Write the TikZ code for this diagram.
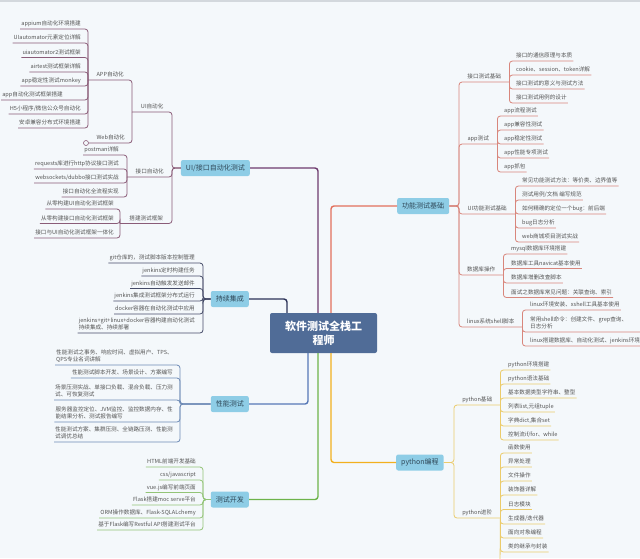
\documentclass[tikz,border=0pt]{standalone}
\usepackage{fontspec}
\setmainfont{Noto Sans CJK SC}
\usepackage{xcolor}
\definecolor{paper}{HTML}{F4F8FB}
\definecolor{rimgray}{HTML}{D3D8DD}
\definecolor{rootblue}{HTML}{506C97}
\definecolor{topicblue}{HTML}{8ECDE6}
\definecolor{topictext}{HTML}{2F4858}
\definecolor{leaftext}{HTML}{555555}
\definecolor{uimainc}{HTML}{6E3B6E}
\definecolor{uileafc}{HTML}{8A5C78}
\definecolor{gnmainc}{HTML}{E3705C}
\definecolor{gnleafc}{HTML}{D8867C}
\definecolor{cimainc}{HTML}{2C3358}
\definecolor{cileafc}{HTML}{454B68}
\definecolor{pfmainc}{HTML}{5678B6}
\definecolor{pfleafc}{HTML}{6E8BB6}
\definecolor{devmainc}{HTML}{6DB34A}
\definecolor{devleafc}{HTML}{93C477}
\definecolor{pymainc}{HTML}{F2B01E}
\definecolor{pyleafc}{HTML}{EBCB6B}
\tikzset{
rootbox/.style={rectangle,rounded corners=2pt,fill=rootblue,text=white,
  font=\fontsize{11}{14}\selectfont\bfseries,minimum width=107pt,minimum height=40pt,align=center,inner sep=2pt},
topicbox/.style={rectangle,rounded corners=2pt,fill=topicblue,text=topictext,
  font=\fontsize{7}{8}\selectfont,minimum height=16pt,inner xsep=5pt,inner ysep=2pt},
subtopic/.style={font=\fontsize{5.6}{7}\selectfont,text=leaftext,inner xsep=0pt,inner ysep=1.5pt,
  text depth=1.5pt,anchor=south west,align=center},
leafL/.style={font=\fontsize{5.6}{7}\selectfont,text=leaftext,inner xsep=1pt,inner ysep=1.5pt,
  text depth=1.5pt,anchor=south east,align=left},
leafR/.style={font=\fontsize{5.6}{7}\selectfont,text=leaftext,inner xsep=1pt,inner ysep=1.5pt,
  text depth=1.5pt,anchor=south west,align=left},
foldmark/.style={circle,draw=uileafc,fill=paper,line width=0.6pt,minimum size=5pt,inner sep=0pt},
uiline/.style={draw=uileafc,line width=0.8pt,rounded corners=3pt},
gnline/.style={draw=gnleafc,line width=0.8pt,rounded corners=3pt},
ciline/.style={draw=cileafc,line width=0.8pt,rounded corners=3pt},
pfline/.style={draw=pfleafc,line width=0.8pt,rounded corners=3pt},
devline/.style={draw=devleafc,line width=0.8pt,rounded corners=3pt},
pyline/.style={draw=pyleafc,line width=0.8pt,rounded corners=3pt},
mainline/.style={line width=1.4pt,rounded corners=3pt}
}
\begin{document}
\begin{tikzpicture}[x=1pt,y=-1pt]
\useasboundingbox (0,0) rectangle (640,558);
\clip (0,0) rectangle (640,558);
\fill[paper] (0,0) rectangle (640,558);
\draw[rimgray,line width=1.5pt] (0,0.75) -- (640,0.75);

\node[rootbox] (root) at (323.5,333) {软件测试全栈工\\程师};

\node[topicbox,anchor=east] (ui) at (250,168) {UI/接口自动化测试};
\coordinate (uibus) at (172,168);
\node[subtopic,minimum width=40pt] (uiauto) at (132,112) {UI自动化};
\node[subtopic,minimum width=45pt] (uiifa) at (127,177) {接口自动化};
\node[subtopic,minimum width=52pt] (uifw) at (120,223.5) {搭建测试框架};
\node[subtopic,minimum width=44pt] (uiapp) at (88,80) {APP自动化};
\node[subtopic,minimum width=43pt] (uiweb) at (89,143) {Web自动化};
\node[foldmark] (webfold) at (86,143) {};
\node[leafL] (app1) at (82,29) {appium自动化环境搭建};
\node[leafL] (app2) at (82,43) {UIautomator元素定位详解};
\node[leafL] (app3) at (82,57.5) {uiautomator2测试框架};
\node[leafL] (app4) at (82,72) {airtest测试框架详解};
\node[leafL] (app5) at (82,86) {app稳定性测试monkey};
\node[leafL] (app6) at (64,100) {app自动化测试框架搭建};
\node[leafL] (app7) at (82,114) {H5小程序/微信公众号自动化};
\node[leafL] (app8) at (82,128) {安卓兼容分布式环境搭建};
\node[leafL] (ifa1) at (120,155) {postman详解};
\node[leafL] (ifa2) at (120,169) {requests库进行http协议接口测试};
\node[leafL] (ifa3) at (120,183) {websockets/dubbo接口测试实战};
\node[leafL] (ifa4) at (120,197) {接口自动化全流程实现};
\node[leafL] (fw1) at (115,209) {从零构建UI自动化测试框架};
\node[leafL] (fw2) at (115,223.5) {从零构建接口自动化测试框架};
\node[leafL] (fw3) at (115,238) {接口与UI自动化测试框架一体化};
\draw[uiline] (app1.south west) -| (uiapp.south west);
\draw[uiline] (app2.south west) -| (uiapp.south west);
\draw[uiline] (app3.south west) -| (uiapp.south west);
\draw[uiline] (app4.south west) -| (uiapp.south west);
\draw[uiline] (app5.south west) -| (uiapp.south west);
\draw[uiline] (app6.south west) -| (uiapp.south west);
\draw[uiline] (app7.south west) -| (uiapp.south west);
\draw[uiline] (app8.south west) -| (uiapp.south west);
\draw[uiline] (uiapp.south west) -| (uiauto.south west);
\draw[uiline] (webfold.east) -| (uiauto.south west);
\draw[uiline] (ifa1.south west) -| (uiifa.south west);
\draw[uiline] (ifa2.south west) -| (uiifa.south west);
\draw[uiline] (ifa3.south west) -| (uiifa.south west);
\draw[uiline] (ifa4.south west) -| (uiifa.south west);
\draw[uiline] (fw1.south west) -| (uifw.south west);
\draw[uiline] (fw2.south west) -| (uifw.south west);
\draw[uiline] (fw3.south west) -| (uifw.south west);
\draw[uiline] (uiauto.south west) -| (uibus) -- (ui.west);
\draw[uiline] (uiifa.south west) -| (uibus) -- (ui.west);
\draw[uiline] (uifw.south west) -| (uibus) -- (ui.west);
\draw[mainline,uimainc] (ui.east) -| ([xshift=-5.5pt]root.north);

\node[topicbox,anchor=east] (ci) at (249,299) {持续集成};
\coordinate (cibus) at (203,299);
\node[leafL] (ci1) at (196,263) {git仓库的，测试脚本版本控制管理};
\node[leafL] (ci2) at (196,276) {jenkins定时构建任务};
\node[leafL] (ci3) at (196,288.5) {jenkins自动触发发送邮件};
\node[leafL] (ci4) at (196,301) {jenkins集成测试框架分布式运行};
\node[leafL] (ci5) at (196,314) {docker容器在自动化测试中应用};
\node[leafL] (ci6) at (196,333) {jenkins+git+linux+docker容器构建自动化测试\\持续集成、持续部署};
\draw[ciline] (ci1.south west) -| (cibus) -- (ci.west);
\draw[ciline] (ci2.south west) -| (cibus) -- (ci.west);
\draw[ciline] (ci3.south west) -| (cibus) -- (ci.west);
\draw[ciline] (ci4.south west) -| (cibus) -- (ci.west);
\draw[ciline] (ci5.south west) -| (cibus) -- (ci.west);
\draw[ciline] (ci6.south west) -| (cibus) -- (ci.west);
\draw[mainline,cimainc] (ci.east) -| ([xshift=-36.5pt]root.north);

\node[topicbox,anchor=east] (pf) at (249,404) {性能测试};
\coordinate (pfbus) at (180,404);
\node[leafL] (pf1) at (174,365) {性能测试之事务、响应时间、虚拟用户、TPS、\\QPS专业名词讲解};
\node[leafL] (pf2) at (174,378) {性能测试脚本开发、场景设计、方案编写};
\node[leafL] (pf3) at (174,400) {场景压测实战、单接口负载、混合负载、压力测\\试、可恢复测试};
\node[leafL] (pf4) at (174,422) {服务器监控定位、JVM监控、监控数据内存、性\\能结果分析、测试报告编写};
\node[leafL] (pf5) at (174,442) {性能测试方案、集群压测、全链路压测、性能测\\试调优总结};
\draw[pfline] (pf1.south west) -| (pfbus) -- (pf.west);
\draw[pfline] (pf2.south west) -| (pfbus) -- (pf.west);
\draw[pfline] (pf3.south west) -| (pfbus) -- (pf.west);
\draw[pfline] (pf4.south west) -| (pfbus) -- (pf.west);
\draw[pfline] (pf5.south west) -| (pfbus) -- (pf.west);
\draw[mainline,pfmainc] (pf.east) -| ([xshift=-15.5pt]root.south);

\node[topicbox,anchor=east] (dev) at (249,499.5) {测试开发};
\coordinate (devbus) at (203,499.5);
\node[leafL] (dev1) at (197,467) {HTML前端开发基础};
\node[leafL] (dev2) at (197,480) {css/javascript};
\node[leafL] (dev3) at (197,492.5) {vue.js编写前端页面};
\node[leafL] (dev4) at (197,505) {Flask搭建moc serve平台};
\node[leafL] (dev5) at (197,518) {ORM操作数据库、Flask-SQLALchemy};
\node[leafL] (dev6) at (197,530) {基于Flask编写Restful API搭建测试平台};
\draw[devline] (dev1.south west) -| (devbus) -- (dev.west);
\draw[devline] (dev2.south west) -| (devbus) -- (dev.west);
\draw[devline] (dev3.south west) -| (devbus) -- (dev.west);
\draw[devline] (dev4.south west) -| (devbus) -- (dev.west);
\draw[devline] (dev5.south west) -| (devbus) -- (dev.west);
\draw[devline] (dev6.south west) -| (devbus) -- (dev.west);
\draw[mainline,devmainc] (dev.east) -| ([xshift=-5.5pt]root.south);

\node[topicbox,anchor=west] (gn) at (397,206) {功能测试基础};
\coordinate (gnbus) at (459,206);
\node[subtopic,minimum width=50pt] (gnjk) at (459,82) {接口测试基础};
\node[subtopic,minimum width=38pt] (gnapp) at (459,144) {app测试};
\node[subtopic,minimum width=56pt] (gnuif) at (459,214) {UI功能测试基础};
\node[subtopic,minimum width=44pt] (gndb) at (459,275) {数据库操作};
\node[subtopic,minimum width=63pt] (gnlx) at (459,327) {linux系统shell脚本};
\node[leafR] (jk1) at (515,61) {接口的通信原理与本质};
\node[leafR] (jk2) at (515,75) {cookie、session、token详解};
\node[leafR] (jk3) at (515,89) {接口测试的意义与测试方法};
\node[leafR] (jk4) at (515,103) {接口测试用例的设计};
\node[leafR] (apt1) at (503,116) {app流程测试};
\node[leafR] (apt2) at (503,130) {app兼容性测试};
\node[leafR] (apt3) at (503,144) {app稳定性测试};
\node[leafR] (apt4) at (503,158) {app性能专项测试};
\node[leafR] (apt5) at (503,172) {app抓包};
\node[leafR] (uif1) at (521,186) {常见功能测试方法：等价类、边界值等};
\node[leafR] (uif2) at (521,200) {测试用例/文档 编写规范};
\node[leafR] (uif3) at (521,214) {如何精确的定位一个bug：前后端};
\node[leafR] (uif4) at (521,228) {bug日志分析};
\node[leafR] (uif5) at (521,242) {web商城项目测试实战};
\node[leafR] (db1) at (510,254) {mysql数据库环境搭建};
\node[leafR] (db2) at (510,268.5) {数据库工具navicat基本使用};
\node[leafR] (db3) at (510,283) {数据库增删改查脚本};
\node[leafR] (db4) at (510,297.5) {面试之数据库常见问题：关联查询、索引};
\node[leafR] (lx1) at (529,310) {linux环境安装、xshell工具基本使用};
\node[leafR] (lx2) at (529,332) {常用shell命令：创建文件、grep查询、\\日志分析};
\node[leafR] (lx3) at (529,346) {linux搭建数据库、自动化测试、jenkins环境};
\draw[gnline] (jk1.south east) -| (gnjk.south east);
\draw[gnline] (jk2.south east) -| (gnjk.south east);
\draw[gnline] (jk3.south east) -| (gnjk.south east);
\draw[gnline] (jk4.south east) -| (gnjk.south east);
\draw[gnline] (apt1.south east) -| (gnapp.south east);
\draw[gnline] (apt2.south east) -| (gnapp.south east);
\draw[gnline] (apt3.south east) -| (gnapp.south east);
\draw[gnline] (apt4.south east) -| (gnapp.south east);
\draw[gnline] (apt5.south east) -| (gnapp.south east);
\draw[gnline] (uif1.south east) -| (gnuif.south east);
\draw[gnline] (uif2.south east) -| (gnuif.south east);
\draw[gnline] (uif3.south east) -| (gnuif.south east);
\draw[gnline] (uif4.south east) -| (gnuif.south east);
\draw[gnline] (uif5.south east) -| (gnuif.south east);
\draw[gnline] (db1.south east) -| (gndb.south east);
\draw[gnline] (db2.south east) -| (gndb.south east);
\draw[gnline] (db3.south east) -| (gndb.south east);
\draw[gnline] (db4.south east) -| (gndb.south east);
\draw[gnline] (lx1.south east) -| (gnlx.south east);
\draw[gnline] ([xshift=20pt]lx2.south east) -| (gnlx.south east);
\draw[gnline] (lx3.south east) -| (gnlx.south east);
\draw[gnline] (gnjk.south east) -| (gnbus) -- (gn.east);
\draw[gnline] (gnapp.south east) -| (gnbus) -- (gn.east);
\draw[gnline] (gnuif.south east) -| (gnbus) -- (gn.east);
\draw[gnline] (gndb.south east) -| (gnbus) -- (gn.east);
\draw[gnline] (gnlx.south east) -| (gnbus) -- (gn.east);
\draw[mainline,gnmainc] (gn.west) -| ([xshift=7.5pt]root.north);

\node[topicbox,anchor=west] (py) at (396,462.5) {python编程};
\coordinate (pybus) at (454,462.5);
\node[subtopic,minimum width=46pt] (pybase) at (454,405) {python基础};
\node[subtopic,minimum width=46pt] (pyadv) at (454,518) {python进阶};
\node[leafR] (pyb1) at (507,370) {python环境搭建};
\node[leafR] (pyb2) at (507,384) {python语法基础};
\node[leafR] (pyb3) at (507,398) {基本数据类型字符串、整型};
\node[leafR] (pyb4) at (507,412) {列表list,元组tuple};
\node[leafR] (pyb5) at (507,426) {字典dict,集合set};
\node[leafR] (pyb6) at (507,440) {控制流if/for、while};
\node[leafR] (pya1) at (507,453) {函数使用};
\node[leafR] (pya2) at (507,467) {异常处理};
\node[leafR] (pya3) at (507,481) {文件操作};
\node[leafR] (pya4) at (507,495) {装饰器详解};
\node[leafR] (pya5) at (507,509.5) {日志模块};
\node[leafR] (pya6) at (507,524) {生成器/迭代器};
\node[leafR] (pya7) at (507,538) {面向对象编程};
\node[leafR] (pya8) at (507,552) {类的继承与封装};
\coordinate (pyend) at (500,566);
\draw[pyline] (pyb1.south east) -| (pybase.south east);
\draw[pyline] (pyb2.south east) -| (pybase.south east);
\draw[pyline] (pyb3.south east) -| (pybase.south east);
\draw[pyline] (pyb4.south east) -| (pybase.south east);
\draw[pyline] (pyb5.south east) -| (pybase.south east);
\draw[pyline] (pyb6.south east) -| (pybase.south east);
\draw[pyline] (pya1.south east) -| (pyadv.south east);
\draw[pyline] (pya2.south east) -| (pyadv.south east);
\draw[pyline] (pya3.south east) -| (pyadv.south east);
\draw[pyline] (pya4.south east) -| (pyadv.south east);
\draw[pyline] (pya5.south east) -| (pyadv.south east);
\draw[pyline] (pya6.south east) -| (pyadv.south east);
\draw[pyline] (pya7.south east) -| (pyadv.south east);
\draw[pyline] (pya8.south east) -| (pyadv.south east);
\draw[pyline] (pyadv.south east) -- (pyend);
\draw[pyline] (pybase.south east) -| (pybus) -- (py.east);
\draw[pyline] (pyadv.south east) -| (pybus) -- (py.east);
\draw[mainline,pymainc] (py.west) -| ([xshift=7.5pt]root.south);
\end{tikzpicture}
\end{document}
